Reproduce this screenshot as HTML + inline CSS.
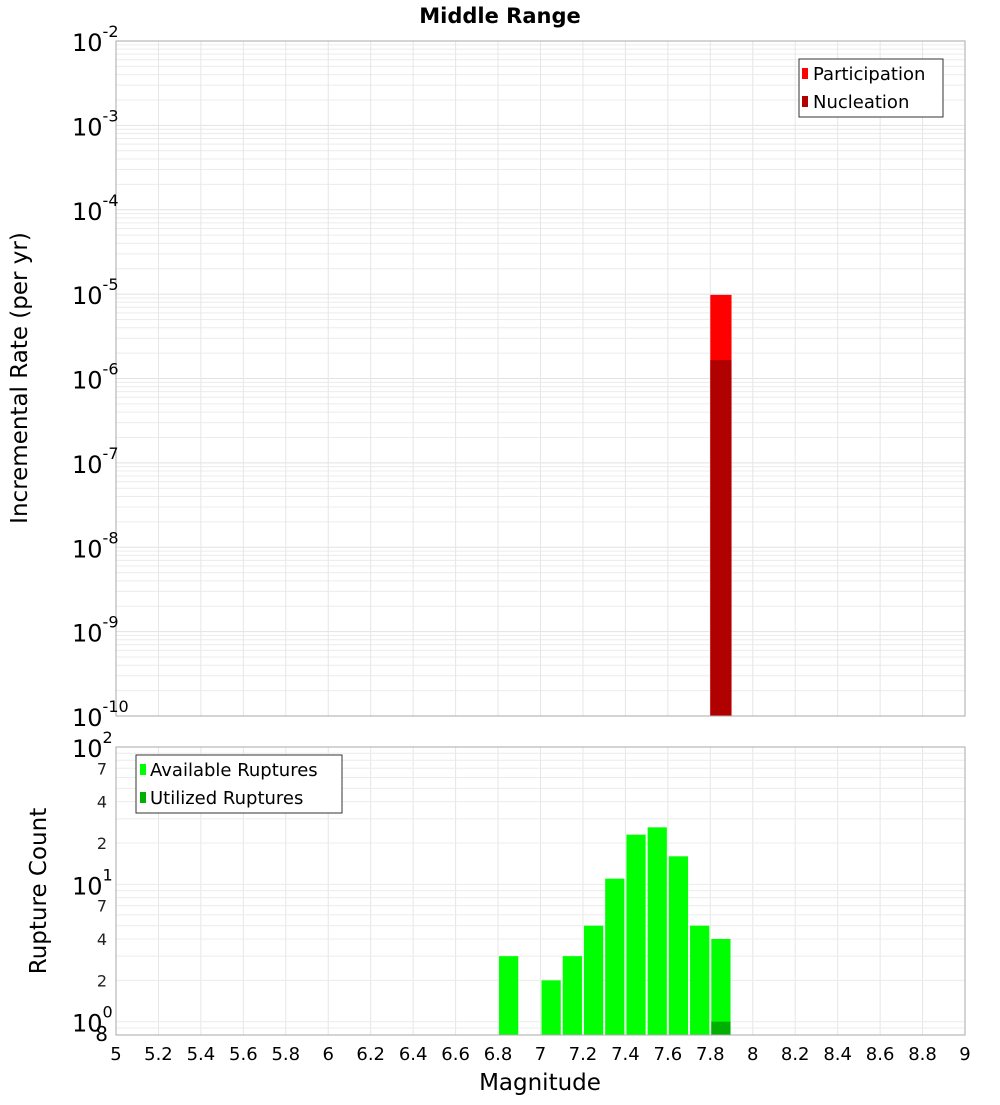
<!DOCTYPE html>
<html><head><meta charset="utf-8"><style>
body{margin:0;background:#fff;font-family:"Liberation Sans","DejaVu Sans",sans-serif;}
svg text{font-family:"DejaVu Sans","Liberation Sans",sans-serif;}
</style></head><body>
<svg id="chart" width="1000" height="1100" xmlns="http://www.w3.org/2000/svg">
<text x="500" y="23" text-anchor="middle" font-size="21" font-weight="bold">Middle Range</text>
<g id="top"></g><g id="bot"></g>
<text transform="translate(27,378) rotate(-90)" text-anchor="middle" font-size="23">Incremental Rate (per yr)</text>
<text transform="translate(46,891) rotate(-90)" text-anchor="middle" font-size="23">Rupture Count</text>
<text x="540" y="1090" text-anchor="middle" font-size="23">Magnitude</text>
</svg>
<script>
const xTicks=[5,5.2,5.4,5.6,5.8,6,6.2,6.4,6.6,6.8,7,7.2,7.4,7.6,7.8,8,8.2,8.4,8.6,8.8,9];
const rateMags=[7.85];
const participation=[9.8e-6];
const nucleation=[1.65e-6];
const countMags=[6.85,7.05,7.15,7.25,7.35,7.45,7.55,7.65,7.75,7.85];
const available=[3,2,3,5,11,23,26,16,5,4];
const utilizedMags=[7.85];
const utilized=[1];
const topExp=[-10,-9,-8,-7,-6,-5,-4,-3,-2];
const botMinor=[2,4,7];

const NS="http://www.w3.org/2000/svg";
const X0=116,X1=965;
const xs=m=>X0+(m-5)/4*(X1-X0);
const T0=41,T1=716;
const yT=v=>T1-(Math.log10(v)+10)/8*(T1-T0);
const B0=747,B1=1035,bMin=0.8,bMax=100;
const yB=v=>B1-(Math.log10(v)-Math.log10(bMin))/(Math.log10(bMax)-Math.log10(bMin))*(B1-B0);
function el(p,t,a,txt){const e=document.createElementNS(NS,t);for(const k in a)e.setAttribute(k,a[k]);if(txt!==undefined)e.textContent=txt;p.appendChild(e);return e;}
const gTop=document.getElementById('top'),gBot=document.getElementById('bot');

for(let e=-10;e<-2;e++)for(let k=1;k<10;k++){const y=yT(k*Math.pow(10,e));
 const l=el(gTop,'line',{x1:X0,x2:X1,y1:y,y2:y,stroke:k==1?'#e2e2e2':'#ececec','stroke-width':1});
 
 }
xTicks.forEach(t=>{[[T0,T1,gTop],[B0,B1,gBot]].forEach(([a,b,g])=>{const l=el(g,'line',{x1:xs(t),x2:xs(t),y1:a,y2:b,stroke:'#e6e6e6'});
 
 });});
rateMags.forEach((m,i)=>{
 const r=el(gTop,'rect',{x:xs(m-0.05),y:yT(participation[i]),width:xs(m+0.05)-xs(m-0.05),height:T1-yT(participation[i]),fill:'#ff0000'});
 
 
 const n=el(gTop,'rect',{x:xs(m-0.05),y:yT(nucleation[i]),width:xs(m+0.05)-xs(m-0.05),height:T1-yT(nucleation[i]),fill:'#b00000'});
 
 
});
const f1=el(gTop,'rect',{x:X0,y:T0,width:X1-X0,height:T1-T0,fill:'none',stroke:'#aaa'});


topExp.forEach(e=>{const y=yT(Math.pow(10,e));
 const t=el(gTop,'text',{x:72,y:y+10,'font-size':24},'10');
 
 
 el(t,'tspan',{dy:-14,'font-size':16},String(e));});
const lg=el(gTop,'g',{});


el(lg,'rect',{x:799,y:59,width:144,height:58,fill:'#fff',stroke:'#333'});
el(lg,'rect',{x:802,y:68,width:6,height:11,fill:'#ff0000'});
el(lg,'text',{x:813,y:80,'font-size':18},'Participation');
el(lg,'rect',{x:802,y:96,width:6,height:11,fill:'#b00000'});
el(lg,'text',{x:813,y:108,'font-size':18},'Nucleation');

for(let e=-1;e<2;e++)for(let k=1;k<10;k++){const v=k*Math.pow(10,e);if(v<bMin||v>bMax)continue;const y=yB(v);
 const l=el(gBot,'line',{x1:X0,x2:X1,y1:y,y2:y,stroke:'#ececec'});
 
 }
countMags.forEach((m,i)=>{
 const r=el(gBot,'rect',{x:xs(m-0.05)+1,y:yB(available[i]),width:xs(m+0.05)-xs(m-0.05)-2,height:B1-yB(available[i]),fill:'#00ff00'});
 
 });
utilizedMags.forEach((m,i)=>{
 const r=el(gBot,'rect',{x:xs(m-0.05)+1,y:yB(utilized[i]),width:xs(m+0.05)-xs(m-0.05)-2,height:B1-yB(utilized[i]),fill:'#00b000'});
 
 });
const f2=el(gBot,'rect',{x:X0,y:B0,width:X1-X0,height:B1-B0,fill:'none',stroke:'#aaa'});


[0,1,2].forEach(e=>{const t=el(gBot,'text',{x:72,y:yB(Math.pow(10,e))+10,'font-size':24},'10');
 
 
 el(t,'tspan',{dy:-14,'font-size':16},String(e));});
[0,1].forEach(e=>botMinor.forEach(k=>{const t=el(gBot,'text',{x:107,y:yB(k*Math.pow(10,e))+6,'font-size':16,'text-anchor':'end',fill:'#222'},String(k));
 
 }));
const t8=el(gBot,'text',{x:108,y:1041,'font-size':20,'text-anchor':'end'},'8');


xTicks.forEach(t=>{const tx=el(gBot,'text',{x:xs(t),y:1060,'font-size':18,'text-anchor':'middle'},String(t));
 
 });
const lb=el(gBot,'g',{});


el(lb,'rect',{x:136,y:755,width:206,height:58,fill:'#fff',stroke:'#333'});
el(lb,'rect',{x:140,y:764,width:6,height:11,fill:'#00ff00'});
el(lb,'text',{x:150,y:776,'font-size':18},'Available Ruptures');
el(lb,'rect',{x:140,y:792,width:6,height:11,fill:'#00b000'});
el(lb,'text',{x:150,y:804,'font-size':18},'Utilized Ruptures');
</script>
</body></html>
